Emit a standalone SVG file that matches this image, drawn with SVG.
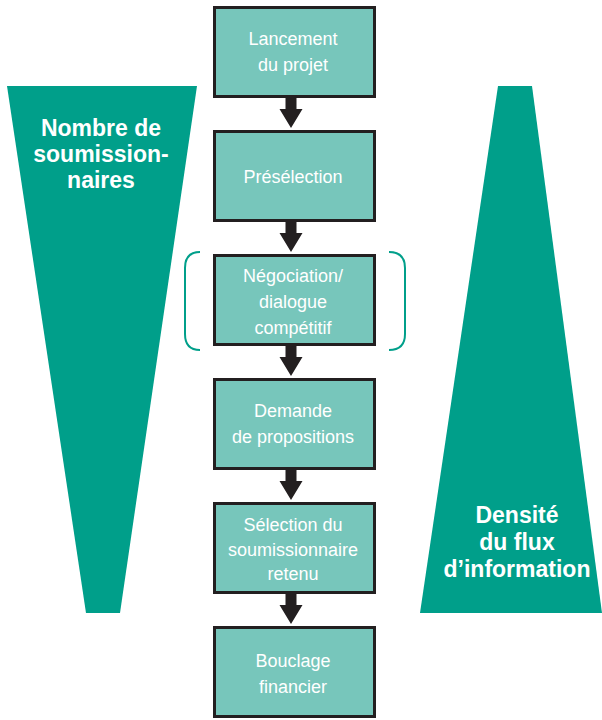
<svg xmlns="http://www.w3.org/2000/svg" width="602" height="720" viewBox="0 0 602 720">
  <defs>
    <style>
      .band { fill: #009f8a; }
      .band-label { fill: #ffffff; font-family: "Liberation Sans", Arial, sans-serif; font-weight: bold; font-size: 23px; text-anchor: middle; }
      .step { fill: #77c6bb; stroke: #231f20; stroke-width: 3; }
      .step-label { fill: #ffffff; font-family: "Liberation Sans", Arial, sans-serif; font-size: 18px; text-anchor: middle; }
      .flow { fill: #231f20; }
      .bracket { fill: none; stroke: #009f8a; stroke-width: 2; }
    </style>
    <!-- block arrow pointing down, origin at top centre of stem -->
    <path id="down-arrow" d="M-5.5,0 H5.5 V11 H11.5 L0,30 L-11.5,11 H-5.5 Z"/>
  </defs>

  <!-- side bands -->
  <g id="band-bidders">
    <polygon class="band" points="7,86 197,86 120,613 86,613"/>
    <text class="band-label" x="101" y="136">Nombre de</text>
    <text class="band-label" x="101" y="162">soumission-</text>
    <text class="band-label" x="101" y="188">naires</text>
  </g>
  <g id="band-information">
    <polygon class="band" points="498,86 532,86 602,613 420,613"/>
    <text class="band-label" x="517" y="523">Densité</text>
    <text class="band-label" x="517" y="550">du flux</text>
    <text class="band-label" x="517" y="577">d’information</text>
  </g>

  <!-- connectors -->
  <g id="connectors">
    <use href="#down-arrow" class="flow" x="291" y="98"/>
    <use href="#down-arrow" class="flow" x="291" y="222"/>
    <use href="#down-arrow" class="flow" x="291" y="346"/>
    <use href="#down-arrow" class="flow" x="291" y="470"/>
    <use href="#down-arrow" class="flow" x="291" y="594"/>
  </g>

  <!-- brackets around the negotiation step -->
  <g id="negotiation-bracket">
    <path class="bracket" d="M200,252 Q185,252 185,268 V334 Q185,350 200,350"/>
    <path class="bracket" d="M389,252 Q405,252 405,268 V334 Q405,350 389,350"/>
  </g>

  <!-- process steps -->
  <g id="step-launch">
    <rect class="step" x="214.5" y="7.5" width="160" height="89"/>
    <text class="step-label" x="293" y="45">Lancement</text>
    <text class="step-label" x="293" y="71">du projet</text>
  </g>
  <g id="step-preselection">
    <rect class="step" x="214.5" y="131.5" width="160" height="89"/>
    <text class="step-label" x="293" y="183">Présélection</text>
  </g>
  <g id="step-negotiation">
    <rect class="step" x="214.5" y="255.5" width="160" height="89"/>
    <text class="step-label" x="293" y="282">Négociation/</text>
    <text class="step-label" x="293" y="308">dialogue</text>
    <text class="step-label" x="293" y="334">compétitif</text>
  </g>
  <g id="step-proposals">
    <rect class="step" x="214.5" y="379.5" width="160" height="89"/>
    <text class="step-label" x="293" y="417">Demande</text>
    <text class="step-label" x="293" y="443">de propositions</text>
  </g>
  <g id="step-selection">
    <rect class="step" x="214.5" y="503.5" width="160" height="89"/>
    <text class="step-label" x="293" y="531">Sélection du</text>
    <text class="step-label" x="293" y="556">soumissionnaire</text>
    <text class="step-label" x="293" y="580">retenu</text>
  </g>
  <g id="step-financing">
    <rect class="step" x="214.5" y="627.5" width="160" height="89"/>
    <text class="step-label" x="293" y="667">Bouclage</text>
    <text class="step-label" x="293" y="693">financier</text>
  </g>
</svg>
